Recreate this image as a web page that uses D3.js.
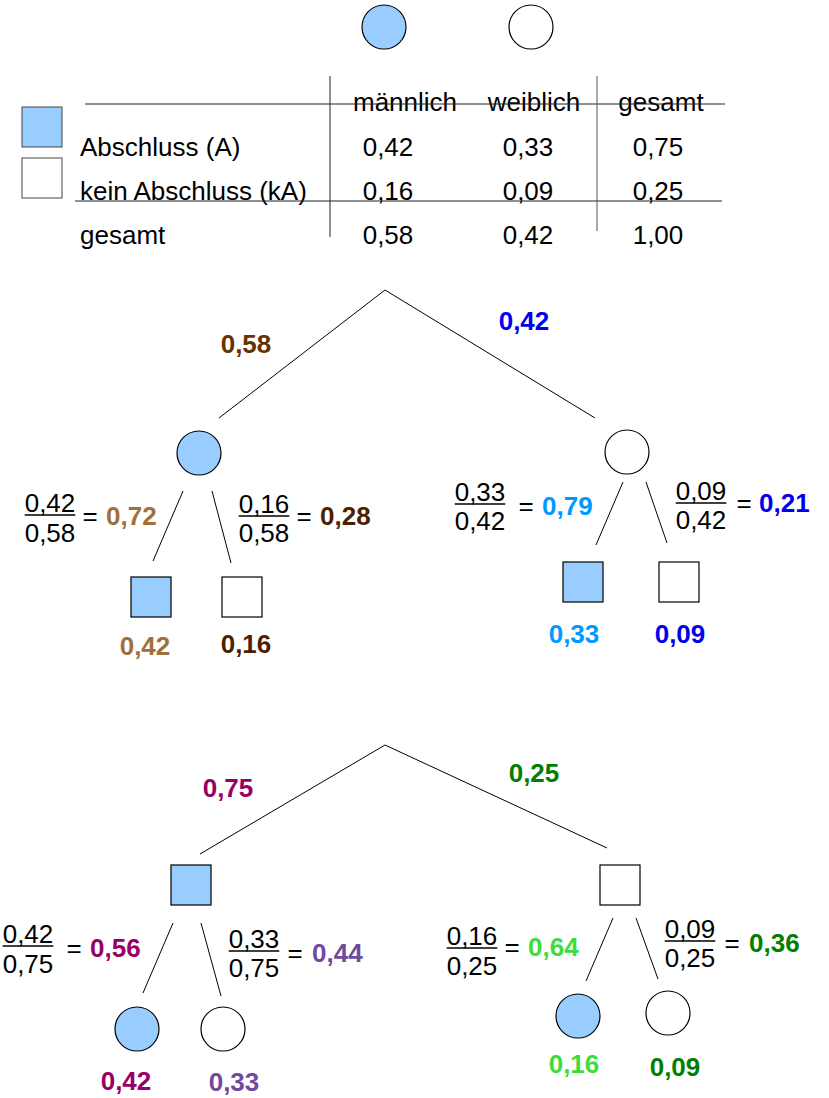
<!DOCTYPE html>
<html><head><meta charset="utf-8">
<script src="https://cdn.jsdelivr.net/npm/d3@7"></script>
<style>body{margin:0;background:#fff}svg{display:block}text{font-family:"Liberation Sans",Arial,sans-serif}</style>
</head><body><svg id="c" width="829" height="1098"></svg>
<script>
// ---------- data ----------
const colHeaders = ["männlich", "weiblich", "gesamt"];
const rowLabels = ["Abschluss (A)", "kein Abschluss (kA)", "gesamt"];
const tableValues = [
  [0.42, 0.33, 0.75],
  [0.16, 0.09, 0.25],
  [0.58, 0.42, 1.00]
];
// tree 1: first gender, then degree
const tree1First = [0.58, 0.42];
const tree1Num = [[0.42, 0.16], [0.33, 0.09]];
const tree1Den = [0.58, 0.42];
const tree1Cond = [[0.72, 0.28], [0.79, 0.21]];
const tree1Joint = [[0.42, 0.16], [0.33, 0.09]];
// tree 2: first degree, then gender
const tree2First = [0.75, 0.25];
const tree2Num = [[0.42, 0.33], [0.16, 0.09]];
const tree2Den = [0.75, 0.25];
const tree2Cond = [[0.56, 0.44], [0.64, 0.36]];
const tree2Joint = [[0.42, 0.33], [0.16, 0.09]];

// ---------- styles ----------
const FILL = "#99ccff";
const FS = 26;
const tree1Colors = { first: ["#663300", "#0000ee"], sub: [["#a0703a", "#4d1f00"], ["#0099ff", "#0000ee"]] };
const tree2Colors = { first: ["#990066", "#008000"], sub: [["#990066", "#6f4a9e"], ["#3ddc3d", "#008000"]] };

const fmt = v => d3.format(".2f")(v).replace(".", ",");
const svg = d3.select("#c");

function shape(g, kind, filled, cx, cy) {
  if (kind === "circle") {
    g.append("circle").attr("cx", cx).attr("cy", cy).attr("r", 22)
      .attr("fill", filled ? FILL : "#fff").attr("stroke", "#000").attr("stroke-width", 1.2);
  } else {
    g.append("rect").attr("x", cx - 20).attr("y", cy - 20).attr("width", 40).attr("height", 40)
      .attr("fill", filled ? FILL : "#fff").attr("stroke", "#000").attr("stroke-width", 1.2);
  }
}
function line(g, a, b, col) {
  g.append("line").attr("x1", a[0]).attr("y1", a[1]).attr("x2", b[0]).attr("y2", b[1])
    .attr("stroke", col || "#000").attr("stroke-width", 1);
}
function txt(g, s, x, y, opts = {}) {
  return g.append("text").attr("x", x).attr("y", y).attr("font-size", opts.size || FS)
    .attr("text-anchor", opts.anchor || "middle").attr("fill", opts.color || "#000")
    .attr("font-weight", opts.bold ? "bold" : "normal").text(s);
}
function fraction(g, num, den, cx, yNum, yDen) {
  const t = txt(g, fmt(num), cx, yNum);
  const w = t.node().getComputedTextLength();
  g.append("line").attr("x1", cx - w / 2).attr("x2", cx + w / 2).attr("y1", yNum + 3).attr("y2", yNum + 3)
    .attr("stroke", "#000").attr("stroke-width", 1.5);
  txt(g, fmt(den), cx, yDen);
}

// ---------- header: legend + table ----------
const head = svg.append("g");
shape(head, "circle", true, 384, 27);
shape(head, "circle", false, 531, 27);
head.append("rect").attr("x", 22).attr("y", 107).attr("width", 40).attr("height", 40).attr("fill", FILL).attr("stroke", "#444");
head.append("rect").attr("x", 22).attr("y", 158).attr("width", 40).attr("height", 40).attr("fill", "#fff").attr("stroke", "#444");

const colX = [388, 528, 658];
const rowY = [156, 200, 244];
const headerX = [405, 534, 661];
colHeaders.forEach((h, i) => txt(head, h, headerX[i], 111));
rowLabels.forEach((r, i) => txt(head, r, 80, rowY[i], { anchor: "start" }));
tableValues.forEach((row, i) => row.forEach((v, j) => txt(head, fmt(v), colX[j], rowY[i])));
line(head, [85, 104], [725, 104], "#222");
line(head, [75, 201], [722, 201], "#222");
line(head, [330, 76], [330, 237], "#222");
line(head, [597, 76], [597, 231], "#555");

// ---------- trees ----------
function drawTree(L, first, nums, dens, cond, joint, colors) {
  const g = svg.append("g");
  line(g, L.root, L.branch[0]);
  line(g, L.root, L.branch[1]);
  first.forEach((p, i) => txt(g, fmt(p), L.firstLbl[i][0], L.firstLbl[i][1], { bold: true, color: colors.first[i] }));
  [0, 1].forEach(i => {
    shape(g, L.kind1, i === 0, L.node[i][0], L.node[i][1]);
    [0, 1].forEach(j => {
      line(g, L.sub[i][j][0], L.sub[i][j][1]);
      shape(g, L.kind2, j === 0, L.leaf[i][j][0], L.leaf[i][j][1]);
      const F = L.frac[i][j];
      fraction(g, nums[i][j], dens[i], F.cx, F.yn, F.yd);
      txt(g, "=", F.eq, F.yr, {});
      txt(g, fmt(cond[i][j]), F.rx, F.yr, { anchor: "start", bold: true, color: colors.sub[i][j] });
      txt(g, fmt(joint[i][j]), L.leafLbl[i][j][0], L.leafLbl[i][j][1], { bold: true, color: colors.sub[i][j] });
    });
  });
}

drawTree({
  root: [385, 290], branch: [[219, 418], [595, 418]], kind1: "circle", kind2: "square",
  firstLbl: [[246, 353], [524, 330]],
  node: [[199, 453], [627, 452]],
  sub: [[[[183, 491], [153, 561]], [[212, 491], [231, 563]]], [[[623, 482], [596, 545]], [[646, 482], [667, 543]]]],
  leaf: [[[151, 597], [242, 597]], [[583, 582], [679, 582]]],
  frac: [[{ cx: 50, yn: 512, yd: 542, eq: 90, rx: 106, yr: 525 }, { cx: 264, yn: 513, yd: 542, eq: 304, rx: 320, yr: 525 }],
         [{ cx: 480, yn: 501, yd: 530, eq: 526, rx: 542, yr: 515 }, { cx: 701, yn: 500, yd: 529, eq: 744, rx: 759, yr: 512 }]],
  leafLbl: [[[145, 655], [246, 653]], [[574, 643], [680, 643]]]
}, tree1First, tree1Num, tree1Den, tree1Cond, tree1Joint, tree1Colors);

drawTree({
  root: [385, 745], branch: [[200, 854], [607, 848]], kind1: "square", kind2: "circle",
  firstLbl: [[228, 797], [534, 782]],
  node: [[191, 885], [620, 885]],
  sub: [[[[173, 923], [143, 993]], [[201, 923], [221, 996]]], [[[613, 918], [586, 981]], [[636, 918], [658, 979]]]],
  leaf: [[[137, 1029], [223, 1029]], [[578, 1016], [668, 1013]]],
  frac: [[{ cx: 28, yn: 943, yd: 973, eq: 74, rx: 90, yr: 957 }, { cx: 254, yn: 948, yd: 977, eq: 295, rx: 312, yr: 962 }],
         [{ cx: 472, yn: 945, yd: 975, eq: 512, rx: 528, yr: 956 }, { cx: 690, yn: 938, yd: 967, eq: 732, rx: 749, yr: 952 }]],
  leafLbl: [[[126, 1090], [234, 1091]], [[574, 1073], [675, 1076]]]
}, tree2First, tree2Num, tree2Den, tree2Cond, tree2Joint, tree2Colors);
</script></body></html>
